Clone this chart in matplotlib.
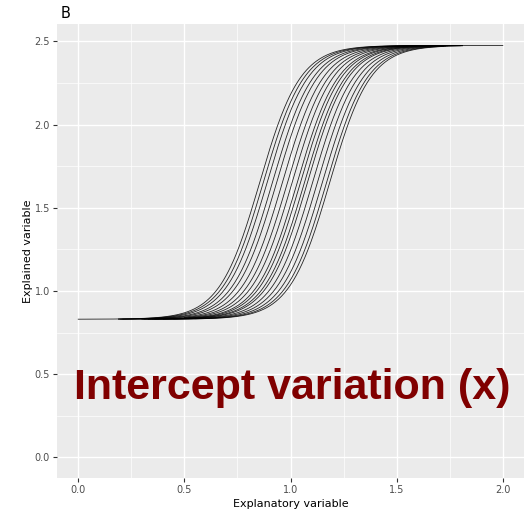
import numpy as np
import matplotlib
matplotlib.use("Agg")
import matplotlib.pyplot as plt

# Logistic curves: common slope and asymptotes, varying intercept (midpoint)
lower = 0.83
upper = 2.475
slope = 10.5
midpoints = [0.855, 0.872, 0.890, 0.915, 0.935, 0.962, 0.986, 1.008, 1.032,
             1.047, 1.066, 1.080, 1.104, 1.127, 1.150, 1.170, 1.185]
x_start = [0.00, 0.19, 0.30, 0.21, 0.33, 0.19, 0.50, 0.35, 0.30,
           0.52, 0.20, 0.36, 0.45, 0.31, 0.55, 0.40, 0.33]
x_end = [1.72, 1.80, 1.70, 2.00, 1.72, 1.81, 1.73, 1.70, 1.80,
         1.72, 1.81, 1.74, 1.72, 1.80, 1.73, 1.81, 1.72]

x_ticks = [0.0, 0.5, 1.0, 1.5, 2.0]
y_ticks = [0.0, 0.5, 1.0, 1.5, 2.0, 2.5]

fig = plt.figure(figsize=(5.29, 5.14), dpi=100)
ax = fig.add_axes([57 / 529, 36 / 514, 467 / 529, 454 / 514])
ax.set_facecolor("#EBEBEB")

for m, a, b in zip(midpoints, x_start, x_end):
    x = np.linspace(a, b, 300)
    y = lower + (upper - lower) / (1 + np.exp(-slope * (x - m)))
    ax.plot(x, y, color="black", lw=0.6, alpha=0.85, zorder=3)

ax.set_xlim(-0.1, 2.1)
ax.set_ylim(-0.124, 2.604)
ax.set_xticks(x_ticks)
ax.set_xticklabels([f"{v:.1f}" for v in x_ticks])
ax.set_yticks(y_ticks)
ax.set_yticklabels([f"{v:.1f}" for v in y_ticks])
ax.set_xticks([0.25, 0.75, 1.25, 1.75], minor=True)
ax.set_yticks([0.25, 0.75, 1.25, 1.75, 2.25], minor=True)
ax.grid(which="major", color="white", lw=1.0, zorder=0)
ax.grid(which="minor", color="white", lw=0.5, zorder=0)
ax.set_axisbelow(True)
for s in ax.spines.values():
    s.set_visible(False)
ax.tick_params(which="major", length=3, width=0.8, color="#333333",
               labelcolor="#4D4D4D", labelsize=7, pad=2)
ax.tick_params(which="minor", length=0)

ax.set_xlabel("Explanatory variable", fontsize=8, color="black", labelpad=3)
ax.set_ylabel("Explained variable", fontsize=8, color="black", labelpad=1)

fig.text(61 / 529, 1 - 14 / 514, "B", fontsize=10.5, ha="left", va="center")

ax.text(0.503, 0.174, "Intercept variation (x)", transform=ax.transAxes,
        ha="center", va="baseline", fontsize=31, fontweight="bold",
        color="#800000", family="Liberation Sans", zorder=5)

fig.savefig("out.png", dpi=100)
